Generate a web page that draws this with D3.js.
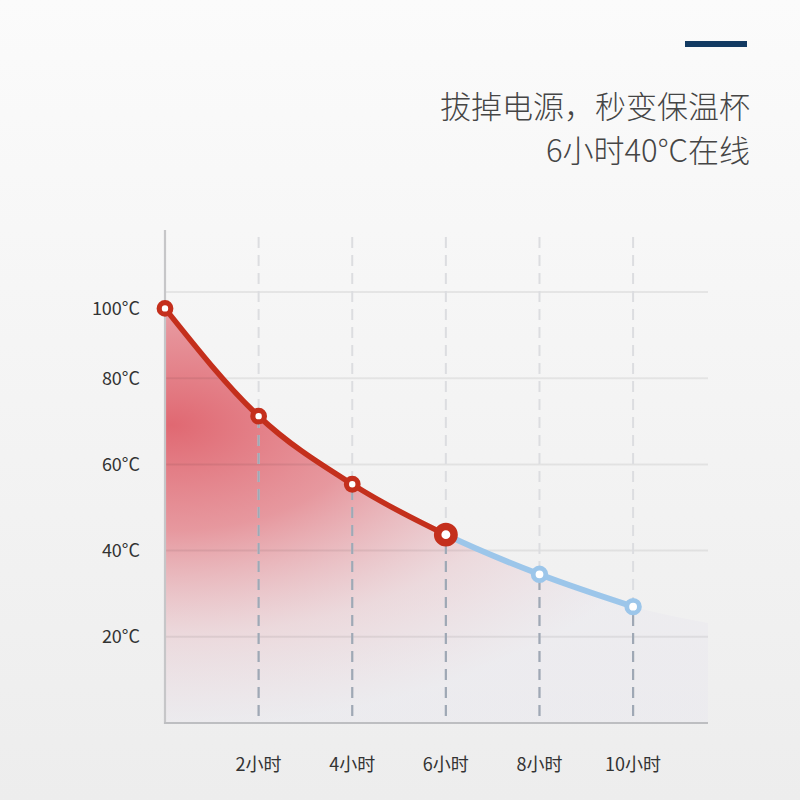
<!DOCTYPE html>
<html>
<head>
<meta charset="utf-8">
<script src="https://cdn.jsdelivr.net/npm/d3@7"></script>
<style>
  html, body { margin: 0; padding: 0; }
  svg { display: block; }
</style>
</head>
<body>
<svg id="vis" width="800" height="800"></svg>
<script>
// data
const hours = [0, 2, 4, 6, 8, 10];
const temps = [96.2, 71.2, 55.4, 43.7, 34.5, 27.0];
const tailHour = 11.6;     // area keeps going to the right edge
const tailTemp = 23.2;
const hotUntil = 6;        // red part ends here, blue after
const yTicks = [100, 80, 60, 40, 20];
const gridValues = [100, 80, 60, 40, 20];
const xTicks = [2, 4, 6, 8, 10];
const titleLines = ['拔掉电源，秒变保温杯', '6小时40°C在线'];

let svg = d3.select('#vis');
let defs = svg.append('defs');
let width = 800;
let height = 800;

let font = '"Noto Sans CJK SC", "Noto Sans", sans-serif';

// background
let bg = defs.append('linearGradient')
  .attr('id', 'bg')
  .attr('x1', 0).attr('y1', 0).attr('x2', 0).attr('y2', 1);
bg.append('stop').attr('offset', '0%').attr('stop-color', '#fbfbfb');
bg.append('stop').attr('offset', '100%').attr('stop-color', '#ededed');

svg.append('rect')
  .attr('width', width)
  .attr('height', height)
  .attr('fill', 'url(#bg)');

// scales
let x = d3.scaleLinear().domain([0, tailHour]).range([165, 708]);
let y = d3.scaleLinear().domain([0, 100]).range([723, 292]);

let points = hours.map((h, i) => { return { hour: h, temp: temps[i] }; });
let fillPoints = points.concat([{ hour: tailHour, temp: tailTemp }]);

//area gradient, red in the upper left fading out
let ag = defs.append('radialGradient')
  .attr('id', 'area-grad')
  .attr('gradientUnits', 'userSpaceOnUse')
  .attr('cx', 0).attr('cy', 0).attr('r', 1)
  .attr('gradientTransform', 'translate(172,425) scale(540,300)');
ag.append('stop').attr('offset', '0%').attr('stop-color', '#df616b').attr('stop-opacity', 0.95);
ag.append('stop').attr('offset', '35%').attr('stop-color', '#e4848c').attr('stop-opacity', 0.82);
ag.append('stop').attr('offset', '70%').attr('stop-color', '#e8c6cc').attr('stop-opacity', 0.55);
ag.append('stop').attr('offset', '100%').attr('stop-color', '#e8e6ee').attr('stop-opacity', 0.4);

let area = d3.area()
  .x((d) => { return x(d.hour); })
  .y0(y(0))
  .y1((d) => { return y(d.temp); })
  .curve(d3.curveMonotoneX);

let line = d3.line()
  .x((d) => { return x(d.hour); })
  .y((d) => { return y(d.temp); })
  .curve(d3.curveMonotoneX);

defs.append('clipPath').attr('id', 'area-clip')
  .append('path')
  .attr('d', area(fillPoints));

defs.append('clipPath').attr('id', 'hot-clip')
  .append('rect')
  .attr('x', 0).attr('y', 0)
  .attr('width', x(hotUntil)).attr('height', height);

defs.append('clipPath').attr('id', 'cool-clip')
  .append('rect')
  .attr('x', x(hotUntil)).attr('y', 0)
  .attr('width', width).attr('height', height);

// area
svg.append('path')
  .attr('d', area(fillPoints))
  .attr('fill', 'url(#area-grad)');

// horizontal grid
svg.append('g').selectAll('line')
  .data(gridValues)
  .enter().append('line')
  .attr('x1', x(0))
  .attr('x2', x(tailHour))
  .attr('y1', (d) => { return y(d); })
  .attr('y2', (d) => { return y(d); })
  .attr('stroke', '#000')
  .attr('stroke-opacity', 0.065)
  .attr('stroke-width', 2);

// dashed verticals: light everywhere, darker under the curve
let dashes = svg.append('g');
dashes.selectAll('.light')
  .data(xTicks)
  .enter().append('line')
  .attr('class', 'light')
  .attr('x1', (d) => { return x(d); })
  .attr('x2', (d) => { return x(d); })
  .attr('y1', 237)
  .attr('y2', y(0))
  .attr('stroke', '#dcdde0')
  .attr('stroke-width', 2)
  .attr('stroke-dasharray', '11 7');

dashes.append('g')
  .attr('clip-path', 'url(#area-clip)')
  .selectAll('.dark')
  .data(xTicks)
  .enter().append('line')
  .attr('class', 'dark')
  .attr('x1', (d) => { return x(d); })
  .attr('x2', (d) => { return x(d); })
  .attr('y1', 237)
  .attr('y2', y(0))
  .attr('stroke', '#9fa8b5')
  .attr('stroke-width', 2.2)
  .attr('stroke-dasharray', '11 7');

// axes lines
svg.append('line')
  .attr('x1', x(0)).attr('x2', x(0))
  .attr('y1', 230).attr('y2', y(0) + 1)
  .attr('stroke', '#c6c6c8')
  .attr('stroke-width', 2.2);

svg.append('line')
  .attr('x1', x(0) - 1).attr('x2', x(tailHour))
  .attr('y1', y(0)).attr('y2', y(0))
  .attr('stroke', '#bdbec1')
  .attr('stroke-width', 2.2);

// curve, red then blue
svg.append('path')
  .attr('d', line(points))
  .attr('fill', 'none')
  .attr('stroke', '#9cc6ea')
  .attr('stroke-width', 6)
  .attr('clip-path', 'url(#cool-clip)');

svg.append('path')
  .attr('d', line(points))
  .attr('fill', 'none')
  .attr('stroke', '#c42f1c')
  .attr('stroke-width', 5.5)
  .attr('stroke-linecap', 'round')
  .attr('clip-path', 'url(#hot-clip)');

// markers
svg.append('g').selectAll('circle')
  .data(points)
  .enter().append('circle')
  .attr('cx', (d) => { return x(d.hour); })
  .attr('cy', (d) => { return y(d.temp); })
  .attr('r', (d) => { return d.hour === hotUntil ? 8.2 : (d.hour > hotUntil ? 6.3 : 5.8); })
  .attr('fill', '#fff')
  .attr('stroke', (d) => { return d.hour > hotUntil ? '#9cc6ea' : '#c42f1c'; })
  .attr('stroke-width', (d) => { return d.hour === hotUntil ? 7.5 : (d.hour > hotUntil ? 4.8 : 5.2); });

// y labels (the top one sits next to the start point)
svg.append('g').selectAll('text')
  .data(yTicks)
  .enter().append('text')
  .attr('x', 140)
  .attr('y', (d) => { return d === 100 ? y(temps[0]) : y(d); })
  .attr('dy', '0.35em')
  .style('text-anchor', 'end')
  .style('font-family', font)
  .style('font-size', '18px')
  .style('fill', '#333')
  .text((d) => { return d + '°C'; });

// x labels
svg.append('g').selectAll('text')
  .data(xTicks)
  .enter().append('text')
  .attr('x', (d) => { return x(d); })
  .attr('y', 771)
  .style('text-anchor', 'middle')
  .style('font-family', font)
  .style('font-size', '18px')
  .style('fill', '#333')
  .text((d) => { return d + '小时'; });

// title block
svg.append('rect')
  .attr('x', 685).attr('y', 41)
  .attr('width', 62).attr('height', 6)
  .attr('fill', '#123a62');

svg.append('g').selectAll('text')
  .data(titleLines)
  .enter().append('text')
  .attr('x', 750)
  .attr('y', (d, i) => { return 118 + i * 44; })
  .style('text-anchor', 'end')
  .style('font-family', font)
  .style('font-weight', 300)
  .style('font-size', '31px')
  .style('fill', '#454545')
  .text((d) => { return d; });
</script>
</body>
</html>
